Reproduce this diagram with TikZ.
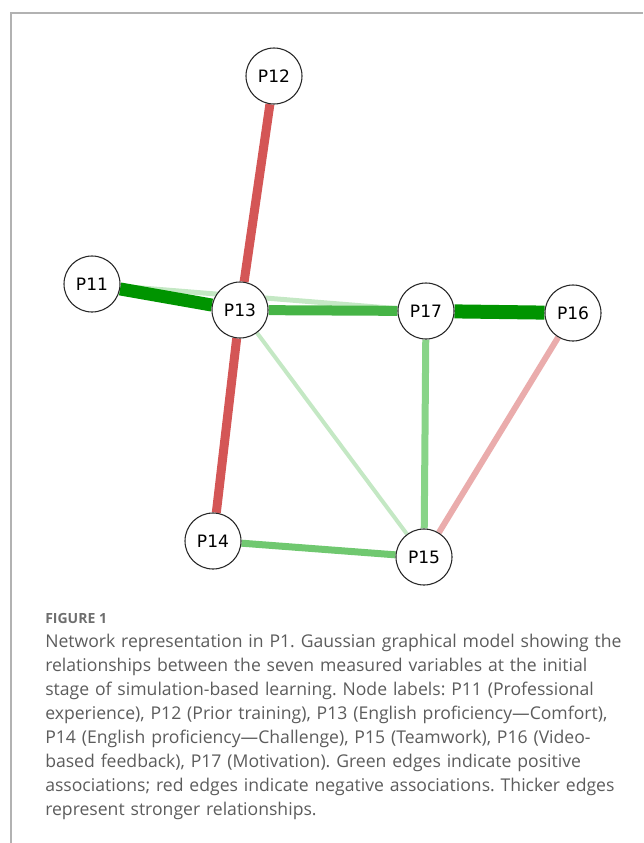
\documentclass[tikz,border=0pt]{standalone}
\usepackage{fontspec}
\setmainfont{Open Sans}
\newfontfamily\varfont{DejaVu Sans}
\usetikzlibrary{backgrounds}

\definecolor{negstrong}{RGB}{212,86,86}
\definecolor{neglight}{RGB}{234,172,172}
\definecolor{posdark}{RGB}{0,148,0}
\definecolor{posmid}{RGB}{70,180,70}
\definecolor{posfair}{RGB}{112,200,112}
\definecolor{possoft}{RGB}{136,212,136}
\definecolor{poslight}{RGB}{196,232,196}
\definecolor{captext}{RGB}{92,92,92}
\definecolor{caphead}{RGB}{110,110,110}

\tikzset{
  var/.style={circle, draw=black!85, line width=0.8pt, fill=white,
    minimum size=42pt, inner sep=0pt, font=\varfont\fontsize{12.8}{14}\selectfont},
  wt/.style={line width=#1*0.75pt}
}
\frenchspacing

\begin{document}
\begin{tikzpicture}[x=0.75pt, y=-0.75pt]
    \useasboundingbox (0,0) rectangle (643,843);
    % frame
    \draw[black!30, line width=0.8pt] (11,843) -- (11,13) -- (643,13);

    % variables
    \node[var] (P12) at (274,76) {P12};
    \node[var] (P11) at (92,284) {P11};
    \node[var] (P13) at (240,310) {P13};
    \node[var] (P17) at (426,311) {P17};
    \node[var] (P16) at (573,313) {P16};
    \node[var] (P14) at (213,541) {P14};
    \node[var] (P15) at (424,557) {P15};

    % partial correlations, weakest first
    \begin{pgfonlayer}{background}
    \draw[wt=4, poslight] (P13) -- (P15);
    \draw[wt=5, poslight] (P11) -- (P17);
    \draw[wt=6, neglight] (P16) -- (P15);
    \draw[wt=7, possoft] (P17) -- (P15);
    \draw[wt=7, posfair] (P14) -- (P15);
    \draw[wt=9, negstrong] (P12) -- (P13);
    \draw[wt=9, negstrong] (P13) -- (P14);
    \draw[wt=10, posmid] (P13) -- (P17);
    \draw[wt=13, posdark] (P11) -- (P13);
    \draw[wt=14, posdark] (P17) -- (P16);
    \end{pgfonlayer}

    % caption
    \node[anchor=base west, inner sep=0pt, text=caphead,
      font=\fontsize{10.5}{12}\selectfont\bfseries] (fig) at (45,623) {FIGURE 1};
    \node[anchor=base west, inner sep=0pt, text=captext, align=left,
      text width=470pt, font=\fontsize{13.2}{18.1}\selectfont] (cap) at (45,647)
      {Network representation in P1. Gaussian graphical model showing the\\
       relationships between the seven measured variables at the initial\\
       stage of simulation-based learning. Node labels: P11 (Professional\\
       experience), P12 (Prior training), P13 (English proficiency—Comfort),\\
       P14 (English proficiency—Challenge), P15 (Teamwork), P16 (Video-\\
       based feedback), P17 (Motivation). Green edges indicate positive\\
       associations; red edges indicate negative associations. Thicker edges\\
       represent stronger relationships.};
\end{tikzpicture}
\end{document}
